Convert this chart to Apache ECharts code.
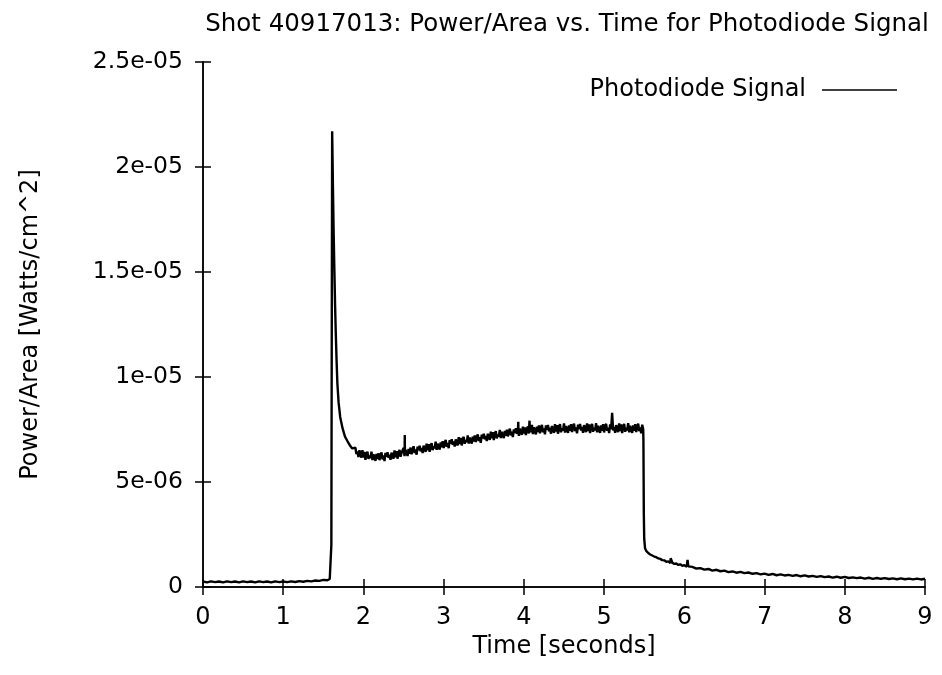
<!DOCTYPE html>
<html>
<head>
<meta charset="utf-8">
<script src="https://cdn.jsdelivr.net/npm/echarts@6/dist/echarts.min.js"></script>
<style>
html,body{margin:0;padding:0;background:#fff;}
#chart{width:942px;height:675px;}
</style>
</head>
<body>
<div id="chart"></div>
<script>
// Values in units of 1e-6 W/cm^2; time in seconds
var titleText = 'Shot 40917013: Power/Area vs. Time for Photodiode Signal';
var seriesName = 'Photodiode Signal';
var xTicks = [0,1,2,3,4,5,6,7,8,9];
var yTickLabels = ['0','5e-06','1e-05','1.5e-05','2e-05','2.5e-05'];

var baseline = [
 [0.00,0.26],[0.05,0.22],[0.10,0.27],[0.15,0.23],[0.20,0.26],[0.25,0.22],[0.30,0.27],[0.35,0.23],
 [0.40,0.26],[0.45,0.22],[0.50,0.27],[0.55,0.23],[0.60,0.26],[0.65,0.22],[0.70,0.27],[0.75,0.23],
 [0.80,0.26],[0.85,0.22],[0.90,0.27],[0.95,0.23],[1.00,0.26],[1.05,0.23],[1.10,0.27],[1.15,0.24],
 [1.20,0.28],[1.25,0.25],[1.30,0.29],[1.35,0.27],[1.40,0.31],[1.45,0.29],[1.50,0.34],[1.55,0.32],
 [1.58,0.38],[1.595,0.40]
];
var spike = [
 [1.600,2.0],[1.605,12.0],[1.610,21.7],[1.615,20.4],[1.620,19.0],[1.628,17.0],[1.637,15.2],
 [1.646,13.5],[1.655,12.1],[1.665,10.8],[1.675,9.7],[1.690,8.8],[1.710,8.1],[1.740,7.55],
 [1.770,7.16],[1.800,6.95],[1.830,6.75],[1.860,6.60],[1.880,6.55]
];
var plateau = [
 [1.9000,6.63],[1.9125,6.33],[1.9250,6.46],[1.9375,6.19],[1.9500,6.51],[1.9625,6.31],[1.9750,6.16],[1.9875,6.52],
 [2.0000,6.16],[2.0125,6.43],[2.0250,6.06],[2.0375,6.34],[2.0500,6.44],[2.0625,6.10],[2.0750,6.26],[2.0875,6.14],
 [2.1000,6.44],[2.1125,6.04],[2.1250,6.32],[2.1375,6.15],[2.1500,6.01],[2.1625,6.34],[2.1750,6.09],[2.1875,6.37],
 [2.2000,6.04],[2.2125,6.27],[2.2250,6.41],[2.2375,6.08],[2.2500,6.26],[2.2625,6.00],[2.2750,6.38],[2.2875,6.20],
 [2.3000,6.42],[2.3125,6.15],[2.3250,6.30],[2.3375,6.06],[2.3500,6.40],[2.3625,6.23],[2.3750,6.11],[2.3875,6.50],
 [2.4000,6.18],[2.4125,6.47],[2.4250,6.11],[2.4375,6.41],[2.4500,6.53],[2.4625,6.20],[2.4750,6.38],[2.4875,6.29],
 [2.5000,6.62],[2.5125,6.23],[2.5150,7.24],[2.5175,6.30],[2.5250,6.53],[2.5375,6.37],[2.5500,6.24],[2.5625,6.58],[2.5750,6.35],[2.5875,6.64],
 [2.6000,6.32],[2.6125,6.56],[2.6250,6.70],[2.6375,6.38],[2.6500,6.55],[2.6625,6.30],[2.6750,6.68],[2.6875,6.51],
 [2.7000,6.73],[2.7125,6.46],[2.7250,6.62],[2.7375,6.38],[2.7500,6.73],[2.7625,6.56],[2.7750,6.44],[2.7875,6.83],
 [2.8000,6.51],[2.8125,6.80],[2.8250,6.44],[2.8375,6.74],[2.8500,6.85],[2.8625,6.52],[2.8750,6.70],[2.8875,6.60],
 [2.9000,6.92],[2.9125,6.53],[2.9250,6.83],[2.9375,6.67],[2.9500,6.54],[2.9625,6.88],[2.9750,6.65],[2.9875,6.94],
 [3.0000,6.62],[3.0125,6.86],[3.0250,7.00],[3.0375,6.68],[3.0500,6.86],[3.0625,6.61],[3.0750,6.99],[3.0875,6.82],
 [3.1000,7.04],[3.1125,6.77],[3.1250,6.93],[3.1375,6.69],[3.1500,7.03],[3.1625,6.86],[3.1750,6.74],[3.1875,7.13],
 [3.2000,6.81],[3.2125,7.10],[3.2250,6.74],[3.2375,7.04],[3.2500,7.15],[3.2625,6.82],[3.2750,7.00],[3.2875,6.90],
 [3.3000,7.22],[3.3125,6.83],[3.3250,7.12],[3.3375,6.96],[3.3500,6.83],[3.3625,7.16],[3.3750,6.93],[3.3875,7.22],
 [3.4000,6.90],[3.4125,7.14],[3.4250,7.27],[3.4375,6.95],[3.4500,7.13],[3.4625,6.87],[3.4750,7.25],[3.4875,7.08],
 [3.5000,7.30],[3.5125,7.03],[3.5250,7.19],[3.5375,6.95],[3.5500,7.30],[3.5625,7.13],[3.5750,7.01],[3.5875,7.40],
 [3.6000,7.08],[3.6125,7.37],[3.6250,7.00],[3.6375,7.30],[3.6500,7.42],[3.6625,7.08],[3.6750,7.26],[3.6875,7.16],
 [3.7000,7.48],[3.7125,7.09],[3.7250,7.39],[3.7375,7.23],[3.7500,7.09],[3.7625,7.43],[3.7750,7.20],[3.7875,7.49],
 [3.8000,7.17],[3.8125,7.41],[3.8250,7.54],[3.8375,7.22],[3.8500,7.39],[3.8625,7.14],[3.8750,7.51],[3.8875,7.34],
 [3.9000,7.56],[3.9125,7.29],[3.9250,7.44],[3.9300,7.87],[3.9325,7.42],[3.9375,7.20],[3.9500,7.54],[3.9625,7.37],[3.9750,7.24],[3.9875,7.63],
 [4.0000,7.31],[4.0125,7.60],[4.0250,7.23],[4.0375,7.53],[4.0500,7.64],[4.0625,7.31],[4.0700,7.92],[4.0750,7.48],[4.0875,7.38],
 [4.1000,7.72],[4.1125,7.28],[4.1250,7.61],[4.1375,7.42],[4.1500,7.27],[4.1625,7.63],[4.1750,7.38],[4.1875,7.69],
 [4.2000,7.32],[4.2125,7.58],[4.2250,7.72],[4.2375,7.37],[4.2500,7.55],[4.2625,7.27],[4.2750,7.69],[4.2875,7.49],
 [4.3000,7.72],[4.3125,7.41],[4.3250,7.58],[4.3375,7.30],[4.3500,7.67],[4.3625,7.48],[4.3750,7.34],[4.3875,7.76],
 [4.4000,7.40],[4.4125,7.71],[4.4250,7.30],[4.4375,7.62],[4.4500,7.75],[4.4625,7.37],[4.4750,7.56],[4.4875,7.45],
 [4.5000,7.79],[4.5125,7.35],[4.5250,7.67],[4.5375,7.48],[4.5500,7.34],[4.5625,7.70],[4.5750,7.44],[4.5875,7.75],
 [4.6000,7.38],[4.6125,7.64],[4.6250,7.78],[4.6375,7.42],[4.6500,7.60],[4.6625,7.32],[4.6750,7.73],[4.6875,7.53],
 [4.7000,7.76],[4.7125,7.45],[4.7250,7.62],[4.7375,7.34],[4.7500,7.71],[4.7625,7.52],[4.7750,7.37],[4.7875,7.79],
 [4.8000,7.43],[4.8125,7.74],[4.8250,7.33],[4.8375,7.65],[4.8500,7.77],[4.8625,7.39],[4.8750,7.58],[4.8875,7.46],
 [4.9000,7.80],[4.9125,7.36],[4.9250,7.68],[4.9375,7.49],[4.9500,7.34],[4.9625,7.70],[4.9750,7.44],[4.9875,7.75],
 [5.0000,7.36],[5.0125,7.66],[5.0250,7.77],[5.0375,7.44],[5.0500,7.59],[5.0625,7.33],[5.0750,7.74],[5.0875,7.51],
 [5.1000,8.30],[5.1125,7.45],[5.1250,7.62],[5.1375,7.34],[5.1500,7.71],[5.1625,7.52],[5.1750,7.37],[5.1875,7.79],
 [5.2000,7.43],[5.2125,7.74],[5.2250,7.33],[5.2375,7.65],[5.2500,7.77],[5.2625,7.39],[5.2750,7.58],[5.2875,7.46],
 [5.3000,7.80],[5.3125,7.36],[5.3250,7.68],[5.3375,7.49],[5.3500,7.34],[5.3625,7.70],[5.3750,7.44],[5.3875,7.75],
 [5.4000,7.38],[5.4125,7.64],[5.4250,7.78],[5.4375,7.42],[5.4500,7.60],[5.4625,7.32],[5.4750,7.73],[5.4875,7.50]
];
var tail = [
 [5.490,7.0],[5.495,3.5],[5.500,2.3],[5.510,1.85],[5.525,1.72],[5.550,1.62],[5.575,1.55],[5.600,1.50],
 [5.625,1.45],[5.650,1.42],[5.675,1.36],[5.700,1.34],[5.725,1.28],[5.750,1.27],[5.775,1.20],[5.800,1.22],
 [5.825,1.14],[5.830,1.37],[5.850,1.16],[5.875,1.10],[5.900,1.12],[5.925,1.05],[5.950,1.08],[5.975,1.01],
 [6.000,1.04],[6.030,0.97],[6.040,1.29],[6.050,0.98],[6.100,0.96],[6.150,0.88],[6.200,0.90],[6.250,0.83],
 [6.300,0.86],[6.350,0.78],[6.400,0.82],[6.450,0.75],[6.500,0.78],[6.550,0.71],[6.600,0.74],[6.650,0.68],
 [6.700,0.72],[6.750,0.66],[6.800,0.69],[6.850,0.63],[6.900,0.66],[6.950,0.60],[7.000,0.64],[7.050,0.58],
 [7.100,0.62],[7.150,0.56],[7.200,0.60],[7.250,0.55],[7.300,0.58],[7.350,0.53],[7.400,0.57],[7.450,0.51],
 [7.500,0.55],[7.550,0.50],[7.600,0.53],[7.650,0.48],[7.700,0.52],[7.750,0.47],[7.800,0.50],[7.850,0.45],
 [7.900,0.49],[7.950,0.44],[8.000,0.48],[8.050,0.43],[8.100,0.46],[8.150,0.42],[8.200,0.45],[8.250,0.40],
 [8.300,0.44],[8.350,0.39],[8.400,0.43],[8.450,0.39],[8.500,0.42],[8.550,0.38],[8.600,0.41],[8.650,0.37],
 [8.700,0.41],[8.750,0.37],[8.800,0.40],[8.850,0.36],[8.900,0.40],[8.950,0.36],[9.000,0.39]
];

var signal = baseline.concat(spike, plateau, tail);

var FONT = '"DejaVu Sans", "Liberation Sans", Arial, sans-serif';
var axisLine = {show:true, lineStyle:{color:'#000', width:1.5}};
var tick = {show:true, inside:true, length:8, lineStyle:{color:'#000', width:1.5}};

var chart = echarts.init(document.getElementById('chart'), null, {renderer:'canvas'});
chart.setOption({
  animation:false,
  backgroundColor:'#fff',
  title:{
    text:titleText, left:562, top:7, textAlign:'center',
    textStyle:{fontFamily:FONT, fontSize:24.5, fontWeight:'normal', color:'#000'}
  },
  legend:{
    data:[{name:seriesName, icon:'rect'}],
    right:45, top:78, padding:0, align:'right', itemWidth:75, itemHeight:1.5, itemGap:10,
    textStyle:{fontFamily:FONT, fontSize:24, color:'#000', padding:[0,11,0,0]}
  },
  grid:{left:203, right:17, top:62, bottom:88, containLabel:false},
  xAxis:[{
    type:'value', min:0, max:9, interval:1, position:'bottom',
    name:'Time [seconds]', nameLocation:'middle', nameGap:38,
    nameTextStyle:{fontFamily:FONT, fontSize:24, color:'#000'},
    axisLine:axisLine, axisTick:tick, splitLine:{show:false},
    axisLabel:{fontFamily:FONT, fontSize:24, color:'#000', margin:19,
      formatter:function(v){return String(xTicks[Math.round(v)]);}}
  },{
    type:'value', min:0, max:9, interval:1, position:'top',
    axisLine:axisLine, axisTick:tick, splitLine:{show:false}, axisLabel:{show:false}
  }],
  yAxis:[{
    type:'value', min:0, max:25, interval:5, position:'left',
    name:'Power/Area [Watts/cm^2]', nameLocation:'middle', nameGap:160, nameRotate:90,
    nameTextStyle:{fontFamily:FONT, fontSize:24, color:'#000'},
    axisLine:axisLine, axisTick:tick, splitLine:{show:false},
    axisLabel:{fontFamily:FONT, fontSize:23.5, color:'#000', margin:20,
      formatter:function(v){return yTickLabels[Math.round(v/5)];}}
  },{
    type:'value', min:0, max:25, interval:5, position:'right',
    axisLine:axisLine, axisTick:tick, splitLine:{show:false}, axisLabel:{show:false}
  }],
  series:[{
    name:seriesName, type:'line', data:signal, xAxisIndex:0, yAxisIndex:0,
    showSymbol:false, symbol:'none', sampling:null, smooth:false,
    lineStyle:{color:'#000', width:2.4}, itemStyle:{color:'#000'}
  }]
});
</script>
</body>
</html>
